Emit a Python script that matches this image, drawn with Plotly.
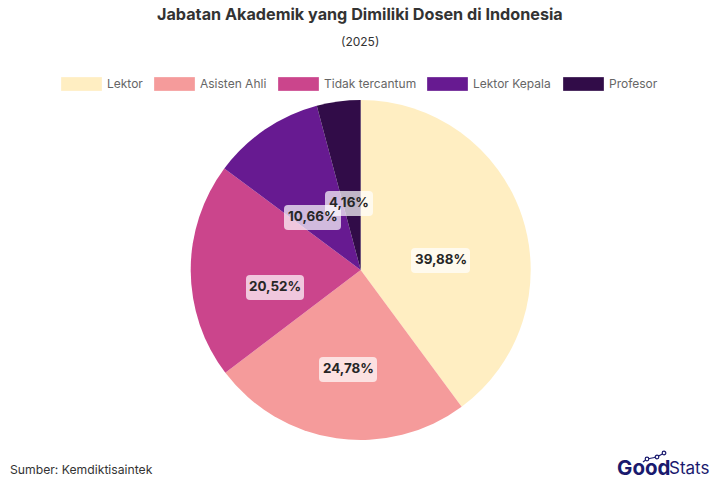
import plotly.graph_objects as go

categories = ["Lektor", "Asisten Ahli", "Tidak tercantum", "Lektor Kepala", "Profesor"]
values = [39.88, 24.78, 20.52, 10.66, 4.16]
value_labels = ["39,88%", "24,78%", "20,52%", "10,66%", "4,16%"]
colors = ["#FFEEC2", "#F59B9B", "#CB458C", "#671A91", "#310C48"]
title = "Jabatan Akademik yang Dimiliki Dosen di Indonesia"
subtitle = "(2025)"
source = "Sumber: Kemdiktisaintek"

W, H = 720, 480
FONT = "Inter"
px = lambda x: x / W
py = lambda y: 1 - y / H

label_boxes = [(411, 248, 470, 273), (319, 357, 377, 382), (246, 275, 304, 300),
               (284, 205, 341, 230), (325, 191, 373, 216)]
legend_x = [61, 154, 278, 427, 563]
SWATCH_W = 41

fig = go.Figure(go.Pie(
    labels=categories, values=values, sort=False, direction="clockwise", rotation=0,
    marker=dict(colors=colors, line=dict(width=0)),
    textinfo="none", showlegend=False, hoverinfo="label+percent",
    domain=dict(x=[px(190.7), px(530.7)], y=[py(440), py(100)]),
))

ann = []
shapes = []
def text(x, y, s, size, color="#333333", anchor="center", **kw):
    ann.append(dict(x=px(x), y=py(y), xref="paper", yref="paper", text=s, showarrow=False,
                    xanchor=anchor, yanchor="middle", align="center",
                    font=dict(family=kw.pop("family", FONT), size=size, color=color), **kw))

def round_rect(x0, y0, x1, y1, r, fill):
    X = lambda v: px(v)
    Y = lambda v: py(v)
    rx, ry = px(r), r / H
    p = (f"M {X(x0)+rx},{Y(y0)} L {X(x1)-rx},{Y(y0)} Q {X(x1)},{Y(y0)} {X(x1)},{Y(y0)-ry} "
         f"L {X(x1)},{Y(y1)+ry} Q {X(x1)},{Y(y1)} {X(x1)-rx},{Y(y1)} "
         f"L {X(x0)+rx},{Y(y1)} Q {X(x0)},{Y(y1)} {X(x0)},{Y(y1)+ry} "
         f"L {X(x0)},{Y(y0)-ry} Q {X(x0)},{Y(y0)} {X(x0)+rx},{Y(y0)} Z")
    return dict(type="path", xref="paper", yref="paper", path=p, fillcolor=fill, line=dict(width=0))

text(360, 14, f"<b>{title}</b>", 16.2, "#333333")
text(360, 41, subtitle, 12, "#333333")
text(8, 469.5, source, 12.2, "#333333", anchor="left")

for lx, name, c in zip(legend_x, categories, colors):
    shapes.append(dict(type="rect", xref="paper", yref="paper", x0=px(lx), x1=px(lx + SWATCH_W),
                       y0=py(91), y1=py(77), fillcolor=c, line=dict(width=1, color="rgba(255,255,255,0.3)")))
    text(lx + SWATCH_W + 3, 83.5, name, 12, "#666666", anchor="left")

for (x0, y0, x1, y1), s in zip(label_boxes, value_labels):
    shapes.append(round_rect(x0, y0, x1, y1, 4, "rgba(255,255,255,0.7)"))
    text((x0 + x1) / 2, (y0 + y1) / 2 - 1.5, f"<b>{s}</b>", 13.4, "#262626")

# logo
text(615, 467.5, "<b>Good</b>", 20.5, "#1A1A6E", anchor="left", family="Inter")
text(667, 467.5, "Stats", 17, "#1A1A6E", anchor="left", family="Inter")
pts = [(643, 462), (647, 459), (657, 457), (664, 453)]
for (a, b), (c, d) in zip(pts, pts[1:]):
    shapes.append(dict(type="line", xref="paper", yref="paper", x0=px(a), y0=py(b), x1=px(c), y1=py(d),
                       line=dict(color="#1A1A6E", width=1.2)))
for a, b in pts[1:]:
    shapes.append(dict(type="circle", xref="paper", yref="paper", x0=px(a - 1.8), x1=px(a + 1.8),
                       y0=py(b - 1.8), y1=py(b + 1.8), fillcolor="white", line=dict(color="#1A1A6E", width=1.2)))

fig.update_layout(width=W, height=H, margin=dict(l=0, r=0, t=0, b=0), paper_bgcolor="white",
                  annotations=ann, shapes=shapes, showlegend=False, font=dict(family=FONT))
fig.write_html("out.html", config=dict(displayModeBar=False),
               post_script="document.body.style.margin='0';document.body.style.overflow='hidden';")
